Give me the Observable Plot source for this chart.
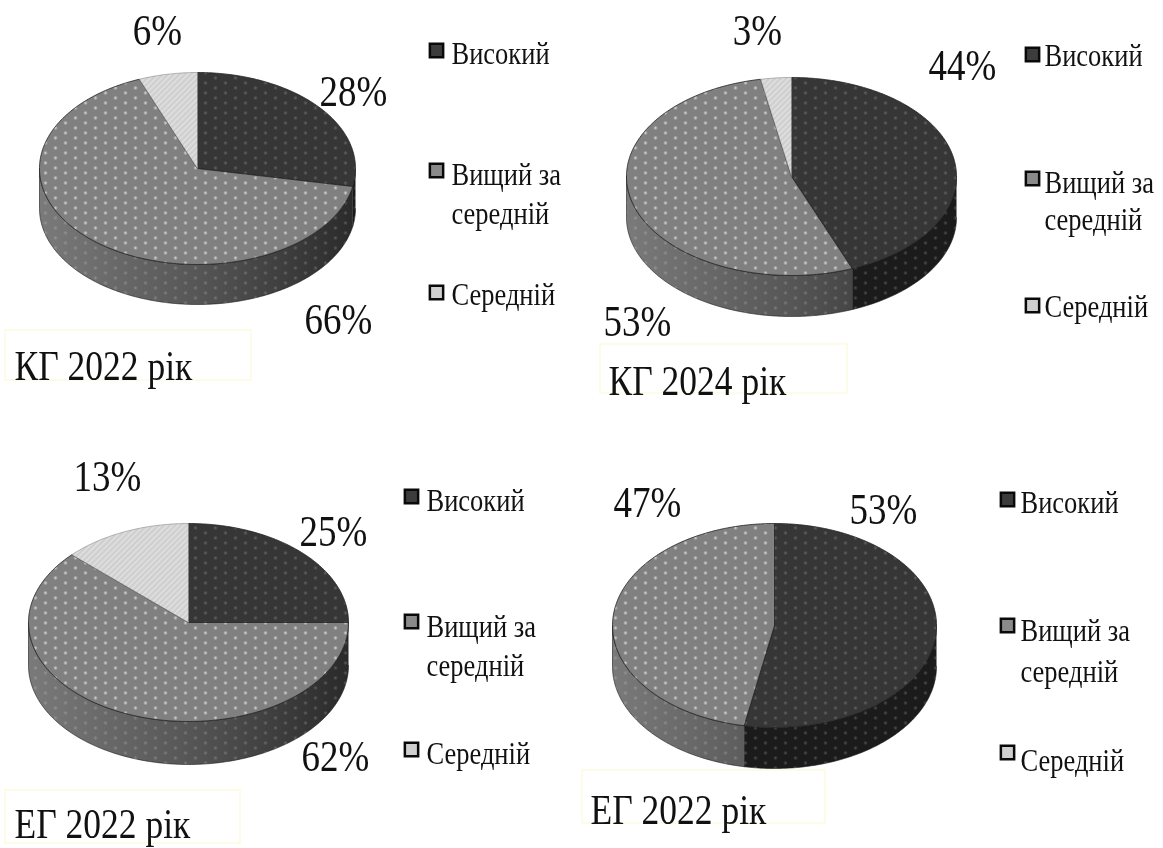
<!DOCTYPE html>
<html><head><meta charset="utf-8">
<script src="https://cdn.jsdelivr.net/npm/d3@7"></script>
<script src="https://cdn.jsdelivr.net/npm/@observablehq/plot@0.6"></script>
<style>html,body{margin:0;padding:0;background:#fff}svg{display:block;filter:blur(.5px)}</style>
</head><body><div id="chart"></div>
<script>
// Data
const panelTitles = ["КГ 2022 рік", "КГ 2024 рік", "ЕГ 2022 рік", "ЕГ 2022 рік"];
const levelNames = ["Високий", "Вищий за середній", "Середній"];
const high = [28, 44, 25, 53];
const aboveAverage = [66, 53, 62, 47];
const average = [6, 3, 13, 0];

// Layout (not data)
const pies = [
  {cx: 197, cy: 168, rx: 158, ry: 96, d: 40},
  {cx: 791, cy: 176, rx: 165, ry: 99, d: 41},
  {cx: 188, cy: 622, rx: 160, ry: 99, d: 43},
  {cx: 774, cy: 625, rx: 162, ry: 102, d: 41}
];
const valueLabelPos = [
  [[353, 92], [338, 320], [157, 31]],
  [[962, 66], [637, 322], [757, 31]],
  [[333, 532], [335, 757], [107, 477]],
  [[883, 510], [647, 503], null]
];
const legendPos = [
  {sx: 436, tx: 451, ys: [50, 170, 292], ty: [53, 174, 213, 294]},
  {sx: 1032, tx: 1044, ys: [54, 178, 305], ty: [55, 182, 219, 306]},
  {sx: 411, tx: 426, ys: [496, 621, 749], ty: [500, 626, 665, 753]},
  {sx: 1007, tx: 1020, ys: [499, 625, 752], ty: [502, 630, 671, 760]}
];
const titleBox = [
  {x1: 5, x2: 251, y1: 330, y2: 380, tx: 14, ty: 366},
  {x1: 600, x2: 847, y1: 344, y2: 393, tx: 608, ty: 381},
  {x1: 5, x2: 240, y1: 790, y2: 843, tx: 14, ty: 824},
  {x1: 582, x2: 825, y1: 770, y2: 823, tx: 590, ty: 810}
];
const topFill = ["#363636", "#808080", "#cfcfcf"];
const serif = "Liberation Serif";

const rad = Math.PI / 180;
const pt = (p, deg, off = 0) => ({x: p.cx + p.rx * Math.sin(deg * rad), y: p.cy - p.ry * Math.cos(deg * rad) + off});
const arc = (p, a, b, off = 0) => {
  const n = Math.max(2, Math.ceil(Math.abs(b - a)));
  return d3.range(n + 1).map(i => pt(p, a + (b - a) * i / n, off));
};

function defs() {
  const d = d3.create("svg:defs");
  const dots = (id, op) => {
    const pat = d.append("pattern").attr("id", id).attr("patternUnits", "userSpaceOnUse").attr("width", 20).attr("height", 10);
    pat.append("circle").attr("cx", 5).attr("cy", 2.5).attr("r", 1.4).attr("fill", "#fff").attr("fill-opacity", op);
    pat.append("circle").attr("cx", 15).attr("cy", 7.5).attr("r", 1.4).attr("fill", "#fff").attr("fill-opacity", op);
  };
  dots("dotsMid", 0.6);
  dots("dotsDark", 0.2);
  dots("dotsWall", 0.2);
  const h = d.append("pattern").attr("id", "hatch").attr("patternUnits", "userSpaceOnUse").attr("width", 4).attr("height", 4).attr("patternTransform", "rotate(45)");
  h.append("rect").attr("width", 1.4).attr("height", 4).attr("fill", "#fff").attr("fill-opacity", 0.4);
  pies.forEach((p, i) => {
    const g = d.append("linearGradient").attr("id", "wall" + i).attr("gradientUnits", "userSpaceOnUse")
      .attr("x1", p.cx - p.rx).attr("x2", p.cx + p.rx).attr("y1", 0).attr("y2", 0);
    g.append("stop").attr("offset", 0).attr("stop-color", "#7a7a7a");
    g.append("stop").attr("offset", 0.5).attr("stop-color", "#565656");
    g.append("stop").attr("offset", 1).attr("stop-color", "#2a2a2a");
  });
  return d.node();
}

const marks = [defs];

panelTitles.forEach((title, i) => {
  const p = pies[i];
  const values = [high[i], aboveAverage[i], average[i]];
  let acc = 0;
  const slices = values.map((v, k) => {
    const a0 = acc * 3.6; acc += v; return {k, v, a0, a1: acc * 3.6};
  }).filter(s => s.v > 0);

  // side wall
  slices.forEach(s => {
    const a = Math.max(s.a0, 90), b = Math.min(s.a1, 270);
    if (b <= a) return;
    const poly = [...arc(p, a, b), ...arc(p, b, a, p.d)];
    const wallFill = s.k === 0 ? "#1b1b1b" : s.k === 1 ? `url(#wall${i})` : "#999";
    marks.push(Plot.line(poly, {x: "x", y: "y", fill: wallFill, stroke: "#1a1a1a", strokeWidth: 0.6}));
    marks.push(Plot.line(poly, {x: "x", y: "y", fill: "url(#dotsWall)", stroke: "none"}));
  });
  // top face
  slices.forEach(s => {
    const poly = [{x: p.cx, y: p.cy}, ...arc(p, s.a0, s.a1), {x: p.cx, y: p.cy}];
    marks.push(Plot.line(poly, {x: "x", y: "y", fill: topFill[s.k], stroke: "none"}));
    const overlay = s.k === 0 ? "url(#dotsDark)" : s.k === 1 ? "url(#dotsMid)" : "url(#hatch)";
    marks.push(Plot.line(poly, {x: "x", y: "y", fill: overlay, stroke: s.k === 2 ? "#777" : "#222", strokeWidth: s.k === 2 ? 0.5 : 0.8}));
  });

  // value labels
  values.forEach((v, k) => {
    const pos = valueLabelPos[i][k];
    if (!pos) return;
    marks.push(Plot.text([`${v}%`], {x: () => pos[0], y: () => pos[1], text: d => d, fontFamily: serif, fontSize: 37, fill: "#111", lineAnchor: "middle"}));
  });

  // legend
  const lg = legendPos[i];
  levelNames.forEach((name, k) => {
    marks.push(Plot.dot([name], {x: () => lg.sx, y: () => lg.ys[k], symbol: "square", r: 7.5, fill: ["#3c3c3c", "#8a8a8a", "#d0d0d0"][k], stroke: "#0a0a0a", strokeWidth: 2.5}));
  });
  const legendRows = [levelNames[0], ...levelNames[1].split(/ (?=середній)/), levelNames[2]];
  legendRows.forEach((t, r) => {
    marks.push(Plot.text([t], {x: () => lg.tx, y: () => lg.ty[r], text: d => d, fontFamily: serif, fontSize: 26.5, fill: "#111", textAnchor: "start", lineAnchor: "middle"}));
  });

  // panel title
  const b = titleBox[i];
  marks.push(Plot.rect([title], {x1: () => b.x1, x2: () => b.x2, y1: () => b.y1, y2: () => b.y2, fill: "none", stroke: "#fbfbe0", strokeWidth: 1.5}));
  marks.push(Plot.text([title], {x: () => b.tx, y: () => b.ty, text: d => d, fontFamily: serif, fontSize: 35.5, fill: "#111", textAnchor: "start", lineAnchor: "middle"}));
});

const chart = Plot.plot({
  width: 1163, height: 848,
  marginTop: 0, marginRight: 0, marginBottom: 0, marginLeft: 0,
  x: {domain: [0, 1163], range: [0, 1163], axis: null},
  y: {domain: [0, 848], range: [0, 848], axis: null},
  style: {background: "#fff"},
  marks
});
// The reference's lettering is stretched vertically
d3.select(chart).selectAll("text").each(function () {
  const t = this.getAttribute("transform") || "";
  this.setAttribute("transform", `${t} scale(1,1.18)`);
});
document.getElementById("chart").append(chart);
</script>
</body></html>
